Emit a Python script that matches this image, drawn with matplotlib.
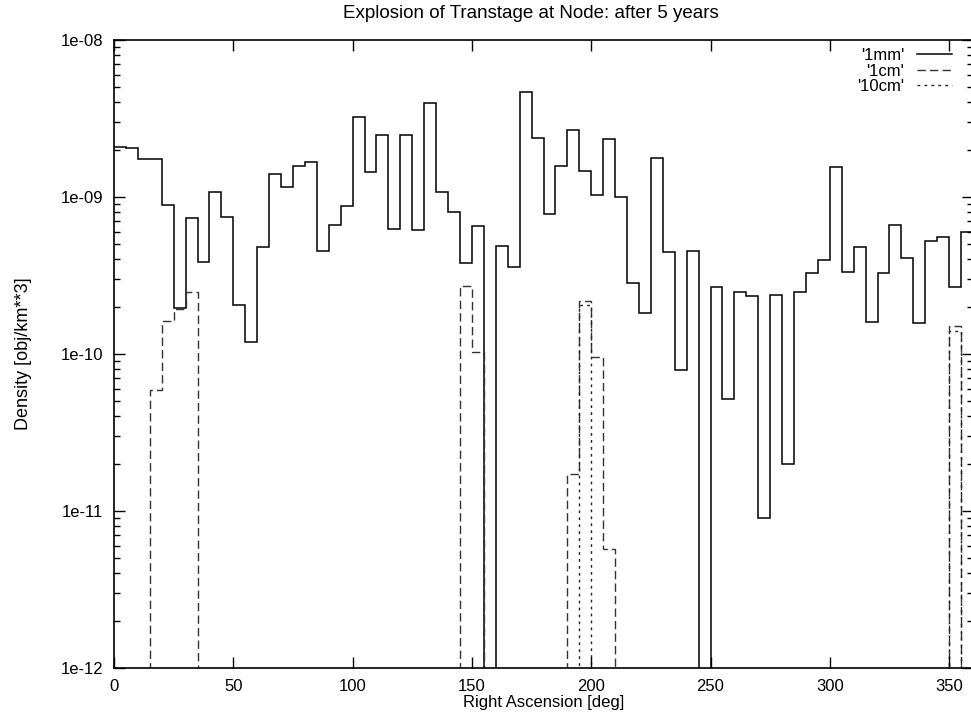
import numpy as np
import matplotlib
matplotlib.use("Agg")
import matplotlib.pyplot as plt

plt.rcParams['font.family'] = ['Liberation Sans', 'DejaVu Sans']

# 5-degree bins in right ascension
bin_edges = np.arange(0, 365, 5)

# density per bin [obj/km**3], 0 = below plot floor
dens_1mm = [
    2.09e-9, 2.04e-9, 1.75e-9, 1.75e-9, 8.9e-10, 1.95e-10, 7.4e-10, 3.87e-10,
    1.08e-9, 7.5e-10, 2.05e-10, 1.2e-10, 4.8e-10, 1.40e-9, 1.16e-9, 1.57e-9,
    1.66e-9, 4.5e-10, 6.6e-10, 8.8e-10, 3.25e-9, 1.45e-9, 2.47e-9, 6.3e-10,
    2.5e-9, 6.2e-10, 3.95e-9, 1.07e-9, 8.05e-10, 3.8e-10, 6.5e-10, 0,
    4.9e-10, 3.56e-10, 4.66e-9, 2.36e-9, 7.75e-10, 1.57e-9, 2.67e-9, 1.46e-9,
    1.03e-9, 2.35e-9, 1.0e-9, 2.85e-10, 1.83e-10, 1.76e-9, 4.45e-10, 7.9e-11,
    4.55e-10, 0, 2.67e-10, 5.2e-11, 2.47e-10, 2.35e-10, 9.0e-12, 2.38e-10,
    1.98e-11, 2.5e-10, 3.27e-10, 3.97e-10, 1.56e-9, 3.34e-10, 4.8e-10, 1.59e-10,
    3.27e-10, 6.6e-10, 4.07e-10, 1.57e-10, 5.25e-10, 5.6e-10, 2.67e-10, 6.0e-10,
]

# 1cm and 10cm only populate a few bins
dens_1cm = np.zeros(72)
dens_1cm[[3, 4, 5, 6]] = [5.9e-11, 1.63e-10, 1.94e-10, 2.47e-10]
dens_1cm[[29, 30]] = [2.72e-10, 1.03e-10]
dens_1cm[[38, 39, 40, 41]] = [1.71e-11, 2.19e-10, 9.6e-11, 5.7e-12]
dens_1cm[70] = 1.5e-10

dens_10cm = np.zeros(72)
dens_10cm[39] = 2.05e-10
dens_10cm[70] = 1.4e-10

labels = ["'1mm'", "'1cm'", "'10cm'"]

floor = 1e-14  # anything at zero drops below the axis


def clip(v):
    v = np.asarray(v, dtype=float)
    return np.where(v > 0, v, floor)


fig = plt.figure(figsize=(9.71, 7.2), dpi=100)
ax = fig.add_axes([114 / 971, 1 - 668 / 720, 859 / 971, 628 / 720])

ax.stairs(clip(dens_1mm), bin_edges, baseline=None, color='black', lw=1.1,
          label=labels[0])
ax.stairs(clip(dens_1cm), bin_edges, baseline=None, color='#333333', lw=1.0,
          ls=(0, (6, 3)), label=labels[1])
ax.stairs(clip(dens_10cm), bin_edges, baseline=None, color='#222222', lw=1.0,
          ls=(0, (2, 3)), label=labels[2])

ax.set_yscale('log')
ax.set_ylim(1e-12, 1e-8)
ax.set_xlim(0, 360)
ax.set_xticks(np.arange(0, 360, 50))
ax.set_yticks([1e-12, 1e-11, 1e-10, 1e-9, 1e-8])
ax.set_yticklabels(['1e-12', '1e-11', '1e-10', '1e-09', '1e-08'])
ax.tick_params(which='both', direction='in', top=True, right=True,
               labelsize=12, width=1)
ax.tick_params(which='major', length=8, pad=8)
ax.tick_params(which='minor', length=4)
for s in ax.spines.values():
    s.set_linewidth(1.2)

ax.set_xlabel('Right Ascension [deg]', fontsize=12, labelpad=1)
ax.set_ylabel('Density [obj/km**3]', fontsize=13, labelpad=20)
fig.text(531 / 971, 1 - 13 / 720, 'Explosion of Transtage at Node: after 5 years',
         ha='center', va='center', fontsize=13.5)

ax.legend(loc='upper right', bbox_to_anchor=(845 / 859, 1 - 1 / 628),
          markerfirst=False, frameon=False, fontsize=12, handlelength=2.1,
          labelspacing=0.05, handletextpad=0.8, borderaxespad=0)

fig.savefig('out.png', dpi=100)
